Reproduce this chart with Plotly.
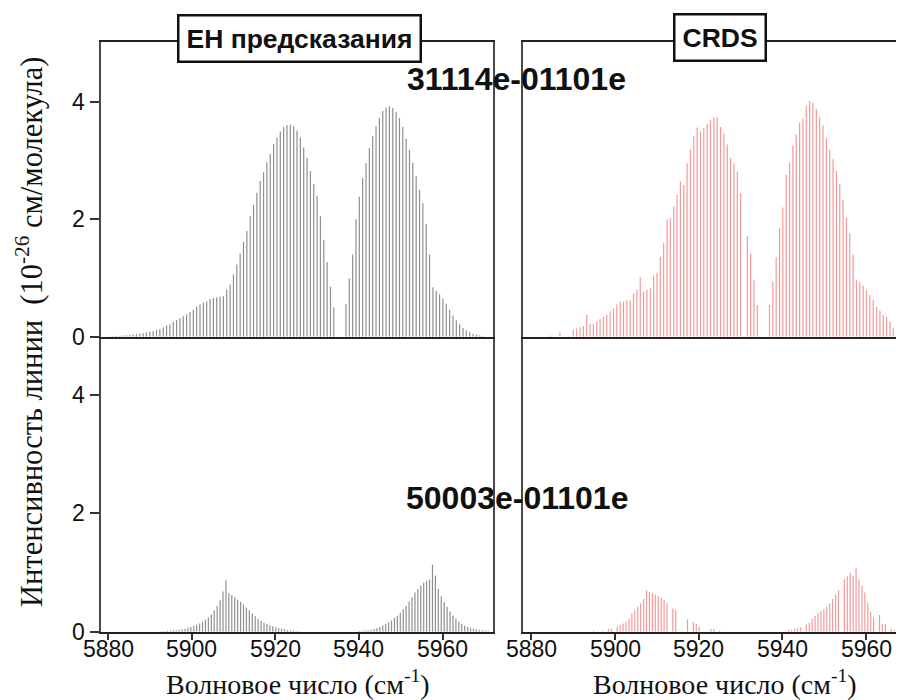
import plotly.graph_objects as go

# ---------------- data ----------------
# band 31114e-01101e : line positions (cm-1)
top_positions = [
    5880.4, 5881.2, 5882.0, 5882.8, 5883.6, 5884.4, 5885.2, 5886.0, 5886.8, 5887.6,
    5888.4, 5889.2, 5890.0, 5890.8, 5891.6, 5892.4, 5893.2, 5894.0, 5894.8, 5895.6,
    5896.4, 5897.2, 5898.0, 5898.8, 5899.6, 5900.4, 5901.2, 5902.0, 5902.8, 5903.6,
    5904.4, 5905.2, 5906.0, 5906.8, 5907.6, 5908.4, 5909.2, 5910.0, 5910.8, 5911.6,
    5912.4, 5913.2, 5914.0, 5914.8, 5915.6, 5916.4, 5917.2, 5918.0, 5918.8, 5919.6,
    5920.4, 5921.2, 5922.0, 5922.8, 5923.6, 5924.4, 5925.2, 5926.0, 5926.8, 5927.6,
    5928.4, 5929.2, 5930.0, 5930.8, 5931.6, 5932.4, 5933.2, 5934.0,
    5936.9, 5937.7, 5938.5, 5939.3, 5940.1, 5940.9, 5941.7, 5942.5, 5943.3, 5944.1,
    5944.9, 5945.7, 5946.5, 5947.3, 5948.1, 5948.9, 5949.7, 5950.5, 5951.3, 5952.1,
    5952.9, 5953.7, 5954.5, 5955.3, 5956.1, 5956.9, 5957.7, 5958.5, 5959.3, 5960.1,
    5960.9, 5961.7, 5962.5, 5963.3, 5964.1, 5964.9, 5965.7, 5966.5, 5967.3, 5968.1,
    5968.9, 5969.7,
]
# EH predictions, 10^-26 cm/molecule
top_eh = [
    0.008, 0.01, 0.012, 0.015, 0.02, 0.025, 0.03, 0.035, 0.04, 0.05,
    0.06, 0.07, 0.085, 0.095, 0.115, 0.13, 0.16, 0.19, 0.21, 0.25,
    0.28, 0.32, 0.35, 0.38, 0.42, 0.46, 0.51, 0.55, 0.58, 0.60,
    0.64, 0.66, 0.67, 0.68, 0.69, 0.80, 0.89, 1.06, 1.23, 1.41,
    1.61, 1.80, 2.06, 2.24, 2.45, 2.65, 2.80, 2.97, 3.11, 3.28,
    3.39, 3.49, 3.57, 3.60, 3.61, 3.58, 3.51, 3.39, 3.22, 3.04,
    2.82, 2.60, 2.40, 2.05, 1.65, 1.27, 0.85, 0.50,
    0.56, 0.99, 1.40, 2.00, 2.38, 2.70, 2.95, 3.21, 3.42, 3.58,
    3.72, 3.84, 3.90, 3.92, 3.89, 3.83, 3.72, 3.57, 3.37, 3.18,
    2.96, 2.73, 2.50, 2.27, 1.92, 1.40, 0.84, 0.78, 0.72, 0.65,
    0.56, 0.46, 0.36, 0.28, 0.21, 0.15, 0.11, 0.075, 0.05, 0.035,
    0.02, 0.012,
]
# CRDS measurements (0 = line not observed)
top_crds = [
    0, 0, 0, 0, 0, 0.02, 0, 0, 0.07, 0,
    0, 0, 0.12, 0.14, 0.16, 0.18, 0.37, 0.22, 0.22, 0.26,
    0.30, 0.34, 0.37, 0.43, 0.48, 0.55, 0.60, 0.60, 0.62, 0.62,
    0.74, 0.80, 1.01, 0.77, 0.80, 0.82, 1.04, 1.09, 1.36, 1.59,
    2.00, 2.02, 2.22, 2.41, 2.64, 2.58, 2.95, 3.19, 3.41, 3.56,
    3.49, 3.55, 3.62, 3.69, 3.73, 3.73, 3.57, 3.46, 3.27, 3.04,
    2.95, 2.81, 2.44, 0, 1.71, 1.42, 0.97, 0.54,
    0.54, 0.94, 1.35, 1.85, 2.20, 2.75, 2.96, 3.25, 3.44, 3.64,
    3.71, 3.93, 4.01, 3.98, 3.88, 3.73, 3.60, 3.38, 3.18, 3.02,
    2.82, 2.60, 2.33, 2.02, 1.76, 1.40, 0.96, 0.93, 0.87, 0.79,
    0.71, 0.62, 0.51, 0.44, 0.37, 0.34, 0.26, 0.14, 0.11, 0.15,
    0.08, 0.05,
]

# band 50003e-01101e
bottom_positions = [
    5892.8, 5893.5, 5894.2, 5894.9, 5895.6, 5896.3, 5897.0, 5897.7, 5898.4, 5899.1,
    5899.8, 5900.5, 5901.2, 5901.9, 5902.6, 5903.3, 5904.0, 5904.7, 5905.4, 5906.1,
    5906.8, 5907.5, 5908.2, 5908.9, 5909.6, 5910.3, 5911.0, 5911.7, 5912.4, 5913.1,
    5913.8, 5914.5, 5915.2, 5915.9, 5916.6, 5917.3, 5918.0, 5918.7, 5919.4, 5920.1,
    5920.8, 5921.5, 5922.2, 5922.9, 5923.6, 5924.3, 5925.0, 5925.7,
    5940.1, 5940.8, 5941.5, 5942.2, 5942.9, 5943.6, 5944.3, 5945.0, 5945.7, 5946.4,
    5947.1, 5947.8, 5948.5, 5949.2, 5949.9, 5950.6, 5951.3, 5952.0, 5952.7, 5953.4,
    5954.1, 5954.8, 5955.5, 5956.2, 5956.9, 5957.6, 5958.3, 5959.0, 5959.7, 5960.4,
    5961.1, 5961.8, 5962.5, 5963.2, 5963.9, 5964.6, 5965.3, 5966.0, 5966.7, 5967.4,
    5968.1, 5968.8, 5969.5, 5970.2, 5970.9,
]
bottom_eh = [
    0.008, 0.012, 0.016, 0.02, 0.025, 0.03, 0.035, 0.04, 0.05, 0.065,
    0.08, 0.10, 0.12, 0.14, 0.17, 0.20, 0.24, 0.29, 0.36, 0.44,
    0.53, 0.68, 0.87, 0.65, 0.62, 0.58, 0.54, 0.50, 0.46, 0.41,
    0.36, 0.31, 0.26, 0.22, 0.18, 0.15, 0.13, 0.11, 0.09, 0.075,
    0.06, 0.05, 0.04, 0.03, 0.025, 0.02, 0.012, 0.008,
    0.01, 0.015, 0.02, 0.025, 0.035, 0.045, 0.06, 0.08, 0.105, 0.13,
    0.16, 0.19, 0.23, 0.27, 0.32, 0.38, 0.44, 0.51, 0.58, 0.66,
    0.72, 0.78, 0.83, 0.86, 0.88, 1.13, 0.95, 0.72, 0.60, 0.50,
    0.42, 0.34, 0.27, 0.22, 0.17, 0.13, 0.10, 0.08, 0.065, 0.05,
    0.04, 0.03, 0.025, 0.02, 0.015,
]
bottom_crds = [
    0, 0, 0, 0.02, 0, 0, 0.01, 0, 0.045, 0.056,
    0, 0.09, 0.11, 0.14, 0.17, 0.22, 0.31, 0.36, 0.42, 0.48,
    0.55, 0.70, 0.67, 0.65, 0.63, 0.60, 0.57, 0.54, 0.48, 0,
    0.39, 0.36, 0, 0, 0, 0.21, 0, 0.16, 0.13, 0.08,
    0, 0, 0, 0.045, 0.045, 0, 0.02, 0,
    0, 0, 0.03, 0.035, 0.045, 0.06, 0.075, 0, 0.12, 0.15,
    0.22, 0.27, 0.31, 0.35, 0.38, 0.42, 0.48, 0.55, 0.63, 0.70,
    0, 0.89, 0.93, 0.99, 0.95, 1.07, 0.88, 0.78, 0.66, 0.48,
    0.33, 0.24, 0, 0.28, 0.13, 0.13, 0, 0.045, 0.03, 0,
    0.03, 0, 0, 0, 0,
]

x_ticks = [5880, 5900, 5920, 5940, 5960]
x_tick_labels = ["5880", "5900", "5920", "5940", "5960"]
y_ticks = [0, 2, 4]
band_labels = ["31114e-01101e", "50003e-01101e"]
panel_titles = ["ЕН предсказания", "CRDS"]
x_title = "Волновое число (см<sup>-1</sup>)"
y_title = "Интенсивность линии  (10<sup>-26</sup> см/молекула)"

# ---------------- figure ----------------
# the page body has an 8 px margin, so the figure is drawn 8 px smaller
OFF = 8
W, H = 904 - OFF, 700 - OFF
GRAY = "#8f8f8f"
PINK = "#f29a9a"
SANS = "Liberation Sans, Arial, sans-serif"
SERIF = "Liberation Serif, Times New Roman, serif"


def fx(px):
    return (px - OFF) / W


def fy(py):
    return 1 - (py - OFF) / H


def sticks(pos, vals):
    xs, ys = [], []
    for p, v in zip(pos, vals):
        if v > 0:
            xs += [p, p, None]
            ys += [0, v, None]
    return xs, ys


fig = go.Figure()
for (pos, vals, color, xa, ya) in [
    (top_positions, top_eh, GRAY, "x3", "y3"),
    (top_positions, top_crds, PINK, "x4", "y4"),
    (bottom_positions, bottom_eh, GRAY, "x", "y"),
    (bottom_positions, bottom_crds, PINK, "x2", "y2"),
]:
    xs, ys = sticks(pos, vals)
    fig.add_trace(go.Scatter(x=xs, y=ys, mode="lines", xaxis=xa, yaxis=ya,
                             line=dict(color=color, width=1.2),
                             hoverinfo="skip", showlegend=False))

xL = [fx(100.5), fx(492.7)]
xR = [fx(522.7), 1.0]
yT = [fy(336.7), fy(42.3)]
yB = [fy(631.7), fy(336.7)]
rngL = [5878.2, 5972.0]
rngR = [5877.9, 5969.06]

tickfont = dict(family=SANS, size=23, color="#111")
base = dict(showgrid=False, zeroline=False, showline=True, linewidth=2,
            linecolor="#4a4a4a")
ytick = dict(tickvals=y_ticks, ticks="outside", ticklen=9, tickwidth=1.5,
             tickcolor="#333", tickfont=tickfont)
xtick = dict(tickvals=x_ticks, ticks="outside", ticklen=6, tickwidth=1.5,
             tickcolor="#333", showticklabels=False)

fig.update_layout(
    width=W, height=H, margin=dict(l=0, r=0, t=0, b=0, autoexpand=False),
    paper_bgcolor="white", plot_bgcolor="white", showlegend=False,
    xaxis=dict(base, **xtick, domain=xL, anchor="y", range=rngL),
    yaxis=dict(base, **ytick, domain=yB, anchor="x", range=[0, 4.98], mirror=True),
    xaxis2=dict(base, **xtick, domain=xR, anchor="y2", range=rngR),
    yaxis2=dict(base, domain=yB, anchor="x2", range=[0, 4.98],
                showticklabels=False, ticks=""),
    xaxis3=dict(base, domain=xL, anchor="y3", range=rngL, showticklabels=False,
                ticks="", mirror=True),
    yaxis3=dict(base, **ytick, domain=yT, anchor="x3", range=[0, 5.01], mirror=True),
    xaxis4=dict(base, domain=xR, anchor="y4", range=rngR, showticklabels=False,
                ticks="", mirror=True),
    yaxis4=dict(base, domain=yT, anchor="x4", range=[0, 5.01],
                showticklabels=False, ticks=""),
)
fig.update_xaxes(linecolor="#222")

ann = []
# x tick labels, placed at the data tick values just below the axis line
for xref, rng in [("x", rngL), ("x2", rngR)]:
    for tv, tl in zip(x_ticks, x_tick_labels):
        if rng[0] <= tv <= rng[1]:
            ann.append(dict(text=tl, x=tv, y=fy(649), xref=xref, yref="paper",
                            showarrow=False, xanchor="center", yanchor="middle",
                            font=tickfont))
for lab, ypx in zip(band_labels, [79, 498]):
    ann.append(dict(text="<b>%s</b>" % lab, x=fx(517), y=fy(ypx),
                    xref="paper", yref="paper", showarrow=False,
                    xanchor="center", yanchor="middle",
                    font=dict(family=SANS, size=32, color="#111")))
for t, xpx, ypx in zip(panel_titles, [299, 720], [38.5, 37.5]):
    ann.append(dict(text="<b>%s</b>" % t, x=fx(xpx), y=fy(ypx),
                    xref="paper", yref="paper", showarrow=False,
                    xanchor="center", yanchor="middle",
                    font=dict(family=SANS, size=26.5, color="#111"),
                    bordercolor="#111", borderwidth=2.5, borderpad=7,
                    bgcolor="white"))
for xpx in [298, 725]:
    ann.append(dict(text=x_title, x=fx(xpx), y=fy(682),
                    xref="paper", yref="paper", showarrow=False,
                    xanchor="center", yanchor="middle",
                    font=dict(family=SERIF, size=28, color="#111")))
ann.append(dict(text=y_title, x=fx(29), y=fy(332), textangle=-90,
                xref="paper", yref="paper", showarrow=False,
                xanchor="center", yanchor="middle",
                font=dict(family=SERIF, size=30.5, color="#111")))
fig.update_layout(annotations=ann)

fig.write_html("out.html")
